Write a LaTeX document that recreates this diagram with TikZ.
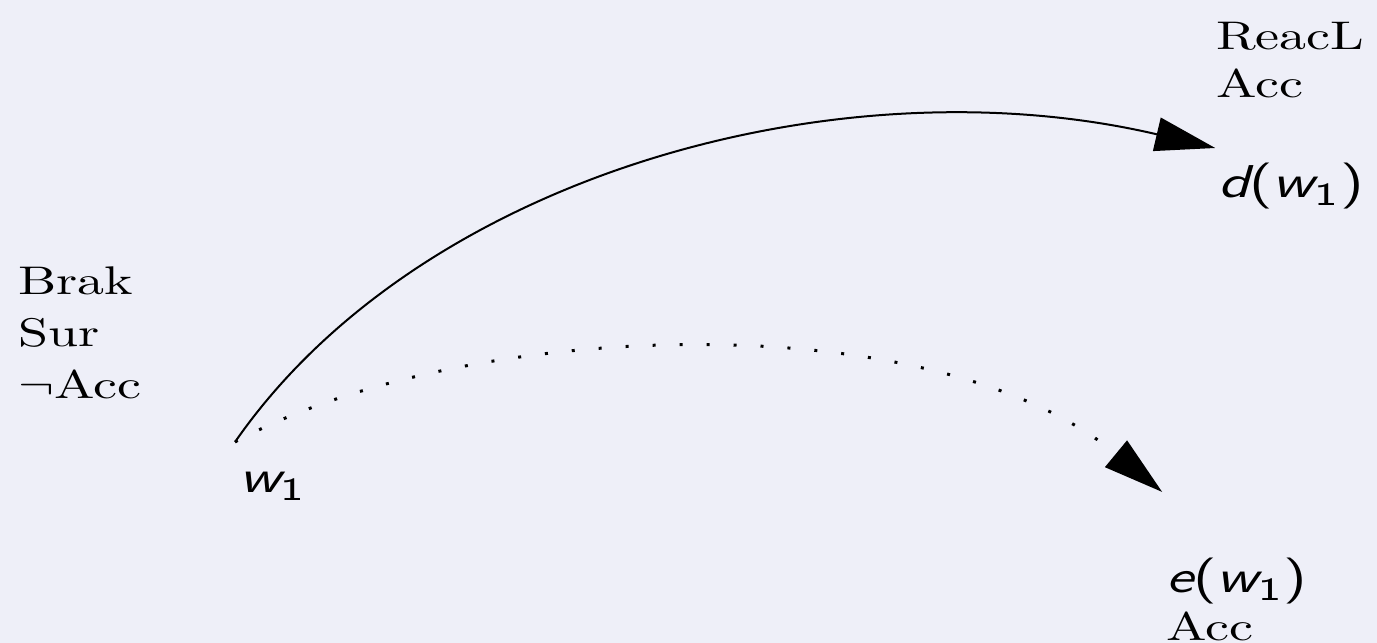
\documentclass[tikz,border=0pt]{standalone}
\usepackage{fontspec}
\usepackage{tikz}
\usetikzlibrary{arrows.meta}
\newcommand{\labelsans}{\fontsize{11.5pt}{14pt}\sffamily\selectfont}
\newcommand{\sv}[1]{{\slshape #1}}
\newcommand{\wone}{\sv{w}\textsubscript{1}}
\definecolor{slidebg}{RGB}{238,239,248}
\tikzset{
  world/.style={anchor=base west, inner sep=0pt},
  reach/.style={-{Triangle[length=15pt,width=8.5pt]}, line width=0.5pt},
  maybe/.style={reach, line width=0.75pt, dash pattern=on 0.75pt off 6pt},
}

\begin{document}
\begin{tikzpicture}[x=0.1852pt, y=-0.25pt, xscale=1.35, every node/.append style={transform shape}]
  \fill[slidebg] (0,0) rectangle (1377,643);
  \useasboundingbox (0,0) rectangle (1377,643);
  % worlds and their properties
  \node[world] (props) at (17,295) {\begin{tabular}[t]{@{}l@{}}Brak\\[1pt] Sur\\[1pt] $\neg$Acc\end{tabular}};
  \node[world] (w1) at (238,493) {{\labelsans\wone}};
  \node[world] (dprops) at (1215,50) {\begin{tabular}[t]{@{}l@{}}ReacL\\ Acc\end{tabular}};
  \node[world] (dw) at (1217,198) {{\labelsans\sv{d}(\wone)}};
  \node[world] (ew) at (1165,593) {\begin{tabular}[t]{@{}l@{}}{\labelsans\sv{e}(\wone)}\\ Acc\end{tabular}};
  \coordinate (src) at (235,442);
  \coordinate (dtip) at (1215,148);
  \coordinate (etip) at (1162,492);
  % transitions
  \draw[reach] (src) .. controls (420,175) and (840,60) .. (dtip);
  \draw[maybe] (src) .. controls (460,320) and (930,300) .. (etip);
\end{tikzpicture}
\end{document}
